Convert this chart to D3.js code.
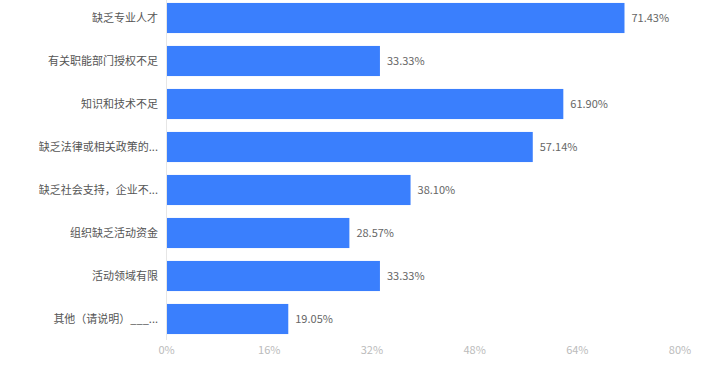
<!DOCTYPE html>
<html lang="zh">
<head>
<meta charset="UTF-8">
<title>chart</title>
<script src="https://cdn.jsdelivr.net/npm/d3@7"></script>
<style>
  body { margin: 0; background: #fff; }
  svg text { font-family: "Noto Sans CJK SC", "Noto Sans", sans-serif; }
</style>
</head>
<body>
<div id="chart"></div>
<script>
// 类别和数值
const categories = [
  "缺乏专业人才",
  "有关职能部门授权不足",
  "知识和技术不足",
  "缺乏法律或相关政策的...",
  "缺乏社会支持，企业不...",
  "组织缺乏活动资金",
  "活动领域有限",
  "其他（请说明）___..."
]
const values = [71.43, 33.33, 61.90, 57.14, 38.10, 28.57, 33.33, 19.05]
const ticks = [0, 16, 32, 48, 64, 80]

const width = 706
const height = 368

const svg = d3.select("#chart")
  .append("svg")
    .attr("width", width)
    .attr("height", height)

const x = d3.scaleLinear()
  .domain([0, 80])
  .range([166, 679.5])

const y = d3.scaleBand()
  .domain(categories)
  .range([-3.5, 340.5])
  .paddingInner(0.3)
  .paddingOuter(0.15)

// 左侧竖线
svg.append("line")
  .attr("x1", x(0) + 0.5).attr("x2", x(0) + 0.5)
  .attr("y1", 0).attr("y2", 340)
  .attr("stroke", "#e6e6e6")

// bars
svg.selectAll("rect.bar")
  .data(values)
  .enter()
  .append("rect")
    .attr("class", "bar")
    .attr("x", x(0) + 1)
    .attr("y", (d, i) => y(categories[i]))
    .attr("width", d => x(d) - x(0) - 1)
    .attr("height", y.bandwidth())
    .attr("fill", "#3a7ffd")

// value labels
svg.selectAll("text.val")
  .data(values)
  .enter()
  .append("text")
    .attr("class", "val")
    .attr("x", d => x(d) + 7)
    .attr("y", (d, i) => y(categories[i]) + y.bandwidth() / 2)
    .attr("dy", "0.35em")
    .attr("font-size", 11)
    .attr("fill", "#666")
    .text(d => d.toFixed(2) + "%")

// category labels
svg.selectAll("text.cat")
  .data(categories)
  .enter()
  .append("text")
    .attr("class", "cat")
    .attr("x", 158)
    .attr("y", d => y(d) + y.bandwidth() / 2)
    .attr("dy", "0.35em")
    .attr("text-anchor", "end")
    .attr("font-size", 11)
    .attr("fill", "#555")
    .text(d => d)

// x axis tick labels
const xAxis = d3.axisBottom(x)
  .tickValues(ticks)
  .tickFormat(d => d + "%")
  .tickSize(0)
  .tickPadding(0)

const gx = svg.append("g")
  .attr("transform", "translate(0,346)")
  .call(xAxis)
gx.select(".domain").remove()
gx.selectAll("text")
  .attr("font-size", 11)
  .attr("fill", "#bbb")
  .attr("dy", "0.71em")
</script>
</body>
</html>
